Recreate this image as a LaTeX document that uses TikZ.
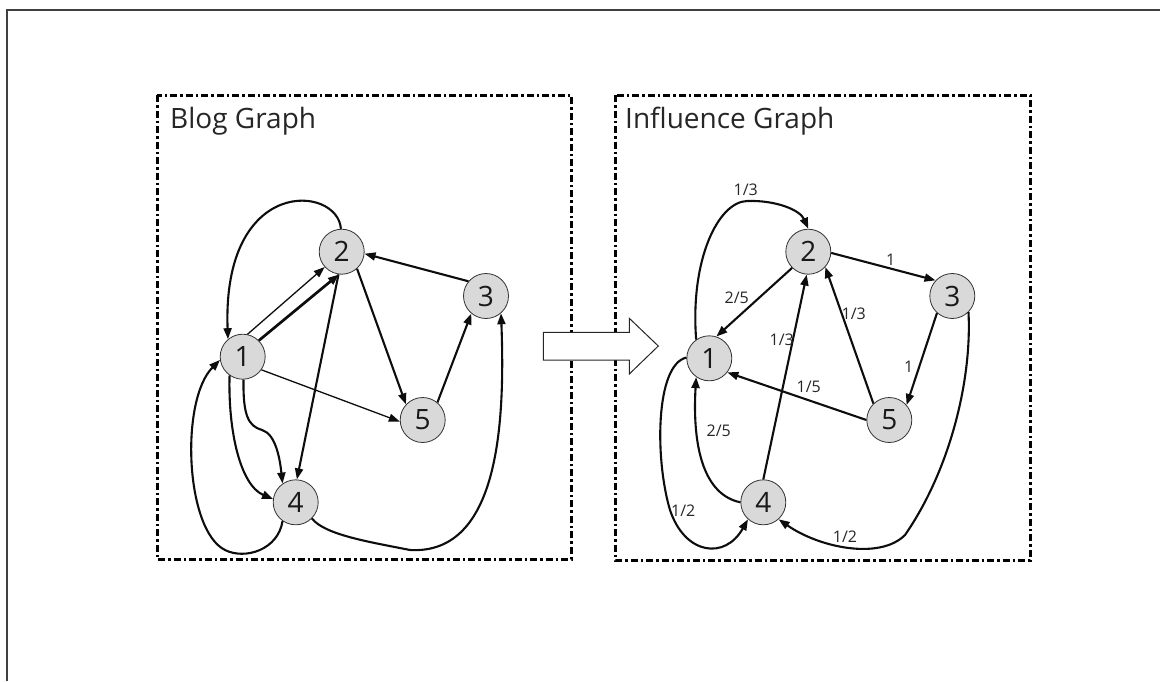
\documentclass[tikz,border=0pt]{standalone}
\usepackage{fontspec}
\setmainfont{Open Sans}
\usetikzlibrary{arrows.meta}
\begin{document}
\begin{tikzpicture}[x=1pt,y=-1pt,
  vtx/.style={circle,draw=black!80,line width=0.8pt,fill=black!15,minimum size=45pt,inner sep=0pt,font=\fontsize{28}{28}\selectfont,text=black!90},
  edge/.style={line width=2.1pt,black!95,-{Triangle[length=11pt,width=8pt]}},
  thinedge/.style={edge,line width=1.3pt},
  thickedge/.style={edge,line width=2.7pt},
  lbl/.style={inner sep=0pt,font=\fontsize{16}{16}\selectfont,text=black!85},
  title/.style={anchor=base west,inner sep=0pt,font=\fontsize{28}{28}\selectfont,text=black!85},
  frame/.style={line width=3pt,dash pattern=on 7pt off 3pt on 2.5pt off 3pt},
  bigarrow/.style={draw=black!85,line width=1pt,fill=white}]
\useasboundingbox (0,0) rectangle (1160,681);
% outer frame
\draw[line width=1.5pt,black!75] (7,681) -- (7,10) -- (1160,10);
% dash-dot boxes
\draw[frame] (157,95) rectangle (571,559);
\draw[frame] (615,95) rectangle (1030,560);
\node[title] (tL) at (170,128) {Blog Graph};
\node[title] (tR) at (625,128) {Influence Graph};
% big arrow
\draw[bigarrow] (543.3,332.3) -- (629.3,332.3) -- (629.3,318.3) -- (658.3,346) -- (629.3,374) -- (629.3,360) -- (543.3,360) -- cycle;

% ---------- Blog graph ----------
\node[vtx] (L1) at (242.7,356.7) {1};
\node[vtx] (L2) at (341.7,251.7) {2};
\node[vtx] (L3) at (486,296) {3};
\node[vtx] (L4) at (295.7,502.3) {4};
\node[vtx] (L5) at (422.7,420) {5};

\draw[edge] (L2.92) .. controls (338,185) and (222,175) .. (L1.130);
\draw[thinedge] (L1.78) -- (L2.222);
\draw[thickedge] (L1.45) -- (L2.263);
\draw[edge] (L2.262) -- (L4.87);
\draw[edge] (L3.140) -- (L2.355);
\draw[edge] (L2.312) -- (L5.137);
\draw[edge] (L5.50) -- (L3.230);
\draw[thinedge] (L1.325) -- (L5.184);
\draw[edge] (L1.235) .. controls (228,430) and (240,485) .. (L4.172);
\coordinate (Lb) at (262,430);
\draw[edge] (L1.272) .. controls (243,415) and (248,426) .. (Lb) .. controls (276,434) and (280,460) .. (L4.125);
\coordinate (La) at (225,550);
\draw[edge] (L4.235) .. controls (278,550) and (245,560) .. (La) .. controls (185,530) and (180,400) .. (L1.188);
\coordinate (Lc) at (410,550);
\draw[edge] (L4.315) .. controls (325,535) and (370,542) .. (Lc) .. controls (500,555) and (505,420) .. (L3.311);

% ---------- Influence graph ----------
\node[vtx] (R1) at (709.3,358.3) {1};
\node[vtx] (R2) at (808.3,251.7) {2};
\node[vtx] (R3) at (952.3,296) {3};
\node[vtx] (R4) at (763.3,502.3) {4};
\node[vtx] (R5) at (889.3,420) {5};

\coordinate (Ra) at (747,201);
\draw[edge] (R1.125) .. controls (690,260) and (718,202) .. (Ra) .. controls (776,200) and (800,210) .. (R2.90);
\draw[edge] (R2.225) -- (R1.72);
\draw[edge] (R2.357) -- (R3.137);
\draw[edge] (R5.134) -- (R2.318);
\draw[edge] (R4.90) -- (R2.266);
\draw[edge] (R3.228) -- (R5.41);
\draw[edge] (R5.180) -- (R1.322);
\draw[edge] (R4.180) .. controls (705,495) and (692,450) .. (R1.235);
\coordinate (Rb) at (670,510);
\draw[edge] (R1.178) .. controls (655,365) and (655,460) .. (Rb) .. controls (685,555) and (725,560) .. (R4.228);
\coordinate (Rc) at (905,535);
\draw[edge] (R3.315) .. controls (972,380) and (950,470) .. (Rc) .. controls (880,560) and (820,548) .. (R4.312);

\node[lbl] (w12) at (745.8,189.7) {1/3};
\node[lbl] (w21) at (736.7,297.5) {2/5};
\node[lbl] (w23) at (890.7,260) {1};
\node[lbl] (w52) at (853.8,314.2) {1/3};
\node[lbl] (w42) at (781.7,340) {1/3};
\node[lbl] (w35) at (908.8,366.7) {1};
\node[lbl] (w51) at (808.7,386.8) {1/5};
\node[lbl] (w41) at (718.7,430.8) {2/5};
\node[lbl] (w14) at (683.3,510.8) {1/2};
\node[lbl] (w34) at (845,536.2) {1/2};
\end{tikzpicture}
\end{document}
